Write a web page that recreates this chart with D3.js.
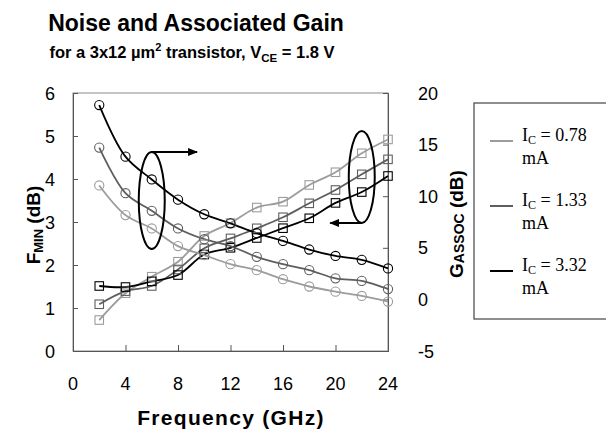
<!DOCTYPE html>
<html>
<head>
<meta charset="utf-8">
<script src="https://cdn.jsdelivr.net/npm/d3@7"></script>
<style>
  body { margin: 0; background: #fff; }
  svg text { font-family: Arial, "Liberation Sans", sans-serif; }
  svg text.serif { font-family: "Liberation Serif", "Times New Roman", serif; }
</style>
</head>
<body>
<div id="chart"></div>
<script>
// data
const freq = [2, 4, 6, 8, 10, 12, 14, 16, 18, 20, 22, 24];

// noise figure, left axis (dB)
const nfLow = [3.85, 3.16, 2.85, 2.44, 2.23, 2.02, 1.88, 1.67, 1.50, 1.38, 1.28, 1.15];
const nfMid = [4.73, 3.67, 3.26, 2.85, 2.60, 2.44, 2.19, 2.02, 1.88, 1.69, 1.63, 1.44];
const nfHigh = [5.72, 4.52, 3.99, 3.52, 3.18, 2.97, 2.74, 2.56, 2.36, 2.21, 2.12, 1.92];

// associated gain, right axis (dB)
const gainLow = [-2.0, 0.6, 2.2, 3.65, 6.15, 7.4, 8.9, 9.47, 11.09, 12.32, 14.16, 15.5];
const gainMid = [-0.47, 0.8, 1.3, 2.9, 4.95, 5.91, 6.89, 7.96, 9.31, 10.6, 12.12, 13.57];
const gainHigh = [1.3, 1.2, 1.75, 2.36, 4.35, 5.0, 5.95, 6.9, 7.86, 9.35, 10.4, 11.96];

const currents = ["0.78", "1.33", "3.32"];
const colors = ["#9c9c9c", "#5e5e5e", "#000000"];

const xTicks = [0, 4, 8, 12, 16, 20, 24];
const leftTicks = [0, 1, 2, 3, 4, 5, 6];
const rightTicks = [-5, 0, 5, 10, 15, 20];

const width = 606, height = 433;
const plot = { left: 73, right: 388, top: 93, bottom: 351 };

const svg = d3.select("#chart").append("svg")
  .attr("width", width)
  .attr("height", height);

const x = d3.scaleLinear().domain([0, 24]).range([plot.left, plot.right]);
const yL = d3.scaleLinear().domain([0, 6]).range([plot.bottom, plot.top]);
const yR = d3.scaleLinear().domain([-5, 20]).range([plot.bottom, plot.top]);

// titles
svg.append("text")
  .attr("x", 196).attr("y", 31)
  .attr("text-anchor", "middle")
  .attr("font-size", 23).attr("font-weight", "bold")
  .text("Noise and Associated Gain");

const sub = svg.append("text")
  .attr("x", 192).attr("y", 58)
  .attr("text-anchor", "middle")
  .attr("font-size", 16.5).attr("font-weight", "bold");
sub.append("tspan").text("for a 3x12 \u00b5m");
sub.append("tspan").attr("font-size", 11).attr("dy", -7).text("2");
sub.append("tspan").attr("dy", 7).text(" transistor, V");
sub.append("tspan").attr("font-size", 11.5).attr("dy", 4).text("CE");
sub.append("tspan").attr("dy", -4).text(" = 1.8 V");

// plot frame
svg.append("rect")
  .attr("x", plot.left).attr("y", plot.top)
  .attr("width", plot.right - plot.left)
  .attr("height", plot.bottom - plot.top)
  .attr("fill", "none").attr("stroke", "#8a8a8a").attr("stroke-width", 1);

// axes, ticks pointing into the plot
const axisColor = "#555";
const gx = svg.append("g")
  .attr("transform", `translate(0,${plot.bottom})`)
  .call(d3.axisTop(x).tickValues(xTicks).tickSize(6).tickFormat(""));
const gl = svg.append("g")
  .attr("transform", `translate(${plot.left},0)`)
  .call(d3.axisRight(yL).tickValues(leftTicks).tickSize(5).tickFormat(""));
const gr = svg.append("g")
  .attr("transform", `translate(${plot.right},0)`)
  .call(d3.axisLeft(yR).tickValues(rightTicks).tickSize(5).tickFormat(""));
[gx, gl, gr].forEach(g => {
  g.select(".domain").attr("stroke", axisColor);
  g.selectAll(".tick line").attr("stroke", axisColor);
});

// tick labels
svg.append("g").selectAll("text")
  .data(xTicks).join("text")
  .attr("x", d => x(d)).attr("y", 390)
  .attr("text-anchor", "middle").attr("font-size", 18)
  .text(d => d);
svg.append("g").selectAll("text")
  .data(leftTicks).join("text")
  .attr("x", 55).attr("y", d => yL(d) + 6.5)
  .attr("text-anchor", "end").attr("font-size", 18)
  .text(d => d);
svg.append("g").selectAll("text")
  .data(rightTicks).join("text")
  .attr("x", 418).attr("y", d => yR(d) + 6.5)
  .attr("text-anchor", "start").attr("font-size", 18)
  .text(d => d);

// axis titles
svg.append("text")
  .attr("x", 231).attr("y", 425)
  .attr("text-anchor", "middle")
  .attr("font-size", 21).attr("font-weight", "bold")
  .attr("letter-spacing", 1.3)
  .text("Frequency (GHz)");

const lt = svg.append("text")
  .attr("transform", "translate(40,225) rotate(-90)")
  .attr("text-anchor", "middle")
  .attr("font-size", 19).attr("font-weight", "bold");
lt.append("tspan").text("F");
lt.append("tspan").attr("font-size", 13).attr("dy", 3).text("MIN");
lt.append("tspan").attr("dy", -3).text(" (dB)");

const rt = svg.append("text")
  .attr("transform", "translate(463,224) rotate(-90)")
  .attr("text-anchor", "middle")
  .attr("font-size", 19).attr("font-weight", "bold");
rt.append("tspan").text("G");
rt.append("tspan").attr("font-size", 14).attr("dy", 1).text("ASSOC");
rt.append("tspan").attr("dy", -1).text(" (dB)");

// series
const nfSeries = [nfLow, nfMid, nfHigh];
const gainSeries = [gainLow, gainMid, gainHigh];
const curve = d3.curveCatmullRom.alpha(0.5);

gainSeries.forEach((vals, i) => {
  const pts = freq.map((f, j) => [x(f), yR(vals[j])]);
  svg.append("path")
    .attr("d", d3.line().curve(curve)(pts))
    .attr("fill", "none").attr("stroke", colors[i]).attr("stroke-width", 1.8);
});
nfSeries.forEach((vals, i) => {
  const pts = freq.map((f, j) => [x(f), yL(vals[j])]);
  svg.append("path")
    .attr("d", d3.line().curve(curve)(pts))
    .attr("fill", "none").attr("stroke", colors[i]).attr("stroke-width", 1.8);
});

// markers
const sq = 8.5;
gainSeries.forEach((vals, i) => {
  svg.append("g").selectAll("rect")
    .data(freq).join("rect")
    .attr("x", (f) => x(f) - sq / 2)
    .attr("y", (f, j) => yR(vals[j]) - sq / 2)
    .attr("width", sq).attr("height", sq)
    .attr("fill", "none").attr("stroke", colors[i]).attr("stroke-width", 1.1);
});
nfSeries.forEach((vals, i) => {
  svg.append("g").selectAll("circle")
    .data(freq).join("circle")
    .attr("cx", (f) => x(f))
    .attr("cy", (f, j) => yL(vals[j]))
    .attr("r", 4.6)
    .attr("fill", "none").attr("stroke", colors[i]).attr("stroke-width", 1.1);
});

// annotations: ellipses with arrows
const defs = svg.append("defs");
defs.append("marker")
  .attr("id", "head")
  .attr("viewBox", "0 0 10 10")
  .attr("refX", 9).attr("refY", 5)
  .attr("markerWidth", 5).attr("markerHeight", 5)
  .attr("orient", "auto")
  .append("path").attr("d", "M0,1 L10,5 L0,9 Z").attr("fill", "#000");

svg.append("ellipse")
  .attr("cx", x(6)).attr("cy", yL(3.5))
  .attr("rx", 13).attr("ry", 48.5)
  .attr("fill", "none").attr("stroke", "#000").attr("stroke-width", 2);
svg.append("line")
  .attr("x1", x(6)).attr("y1", yL(3.5) - 48.5)
  .attr("x2", x(9.45)).attr("y2", yL(3.5) - 48.5)
  .attr("stroke", "#000").attr("stroke-width", 2)
  .attr("marker-end", "url(#head)");

svg.append("ellipse")
  .attr("cx", x(22)).attr("cy", yR(11.86))
  .attr("rx", 13).attr("ry", 46)
  .attr("fill", "none").attr("stroke", "#000").attr("stroke-width", 2);
svg.append("line")
  .attr("x1", x(22)).attr("y1", yR(11.86) + 46)
  .attr("x2", x(19.6)).attr("y2", yR(11.86) + 46)
  .attr("stroke", "#000").attr("stroke-width", 2)
  .attr("marker-end", "url(#head)");

// legend
const legend = svg.append("g");
legend.append("rect")
  .attr("x", 474).attr("y", 103)
  .attr("width", 150).attr("height", 216)
  .attr("fill", "#fff").attr("stroke", "#444").attr("stroke-width", 1.2);

currents.forEach((c, i) => {
  const ly = 141 + i * 65;
  legend.append("line")
    .attr("x1", 490).attr("x2", 513)
    .attr("y1", ly).attr("y2", ly)
    .attr("stroke", colors[i]).attr("stroke-width", 2);
  const t = legend.append("text")
    .attr("class", "serif")
    .attr("x", 522).attr("y", ly)
    .attr("font-size", 18);
  t.append("tspan").text("I");
  t.append("tspan").attr("font-size", 12).attr("dy", 3).text("C");
  t.append("tspan").attr("dy", -3).text(` = ${c}`);
  legend.append("text")
    .attr("class", "serif")
    .attr("x", 522).attr("y", ly + 23)
    .attr("font-size", 18)
    .text("mA");
});
</script>
</body>
</html>
